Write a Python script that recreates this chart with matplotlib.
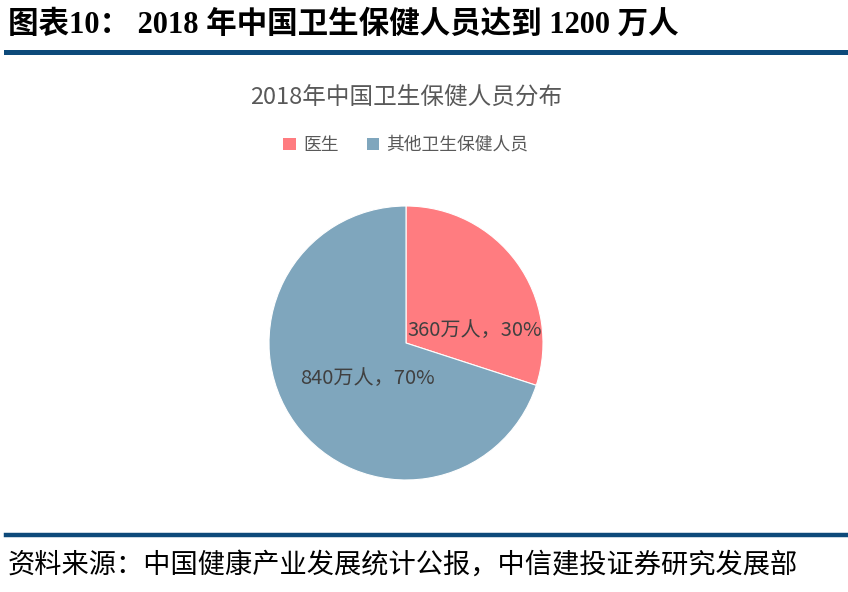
import matplotlib

matplotlib.use("Agg")
import matplotlib.pyplot as plt
from matplotlib.lines import Line2D
from matplotlib.patches import Patch

plt.rcParams["font.family"] = ["Noto Sans CJK SC", "DejaVu Sans"]

header = "图表10： 2018 年中国卫生保健人员达到 1200 万人"
chart_title = "2018年中国卫生保健人员分布"
source = "资料来源：中国健康产业发展统计公报，中信建投证券研究发展部"

categories = ["医生", "其他卫生保健人员"]
values = [360, 840]
value_labels = ["360万人，30%", "840万人，70%"]
colors = ["#ff7c80", "#7fa6bd"]

# label placement inside the pie (axes data units, relative to centre)
label_pos = [(0.50, 0.095), (-0.28, -0.26)]

W, H = 848, 592
fig = plt.figure(figsize=(W / 100, H / 100), dpi=100)
fig.patch.set_facecolor("white")

# header and rules
fig.text(8 / W, 1 - 25 / H, header, fontsize=22, fontweight="bold",
         family=["Liberation Serif", "Noto Sans CJK SC"], ha="left", va="center", color="#000000")
fig.add_artist(Line2D([6 / W, 1], [1 - 52 / H] * 2, color="#0d4a7a", linewidth=3.6))
fig.add_artist(Line2D([6 / W, 1], [1 - 535 / H] * 2, color="#0d4a7a", linewidth=3.2))
fig.text(8 / W, 1 - 565 / H, source, fontsize=19.6, style="italic",
         ha="left", va="center", color="#000000")

# chart title + legend
fig.text(406 / W, 1 - 97 / H, chart_title, fontsize=17, ha="center", va="center", color="#595959")
handles = [Patch(facecolor=c, edgecolor="none") for c in colors]
fig.legend(handles, categories, loc="center", bbox_to_anchor=(406 / W, 1 - 145 / H), ncol=2,
           frameon=False, fontsize=12.8, labelcolor="#595959", handlelength=0.7, handleheight=0.7,
           handletextpad=0.4, columnspacing=1.6)

# pie
cx, cy, r = 406, 343, 137
ax = fig.add_axes([(cx - r) / W, 1 - (cy + r) / H, 2 * r / W, 2 * r / H])
ax.pie(values, colors=colors, startangle=90, counterclock=False,
       wedgeprops={"edgecolor": "white", "linewidth": 0.8})
ax.set_aspect("equal")
ax.set_xlim(-1, 1)
ax.set_ylim(-1, 1)
for (x, y), text in zip(label_pos, value_labels):
    ax.text(x, y, text, fontsize=14.5, ha="center", va="center", color="#404040")

fig.savefig("out.png", dpi=100, facecolor="white")
